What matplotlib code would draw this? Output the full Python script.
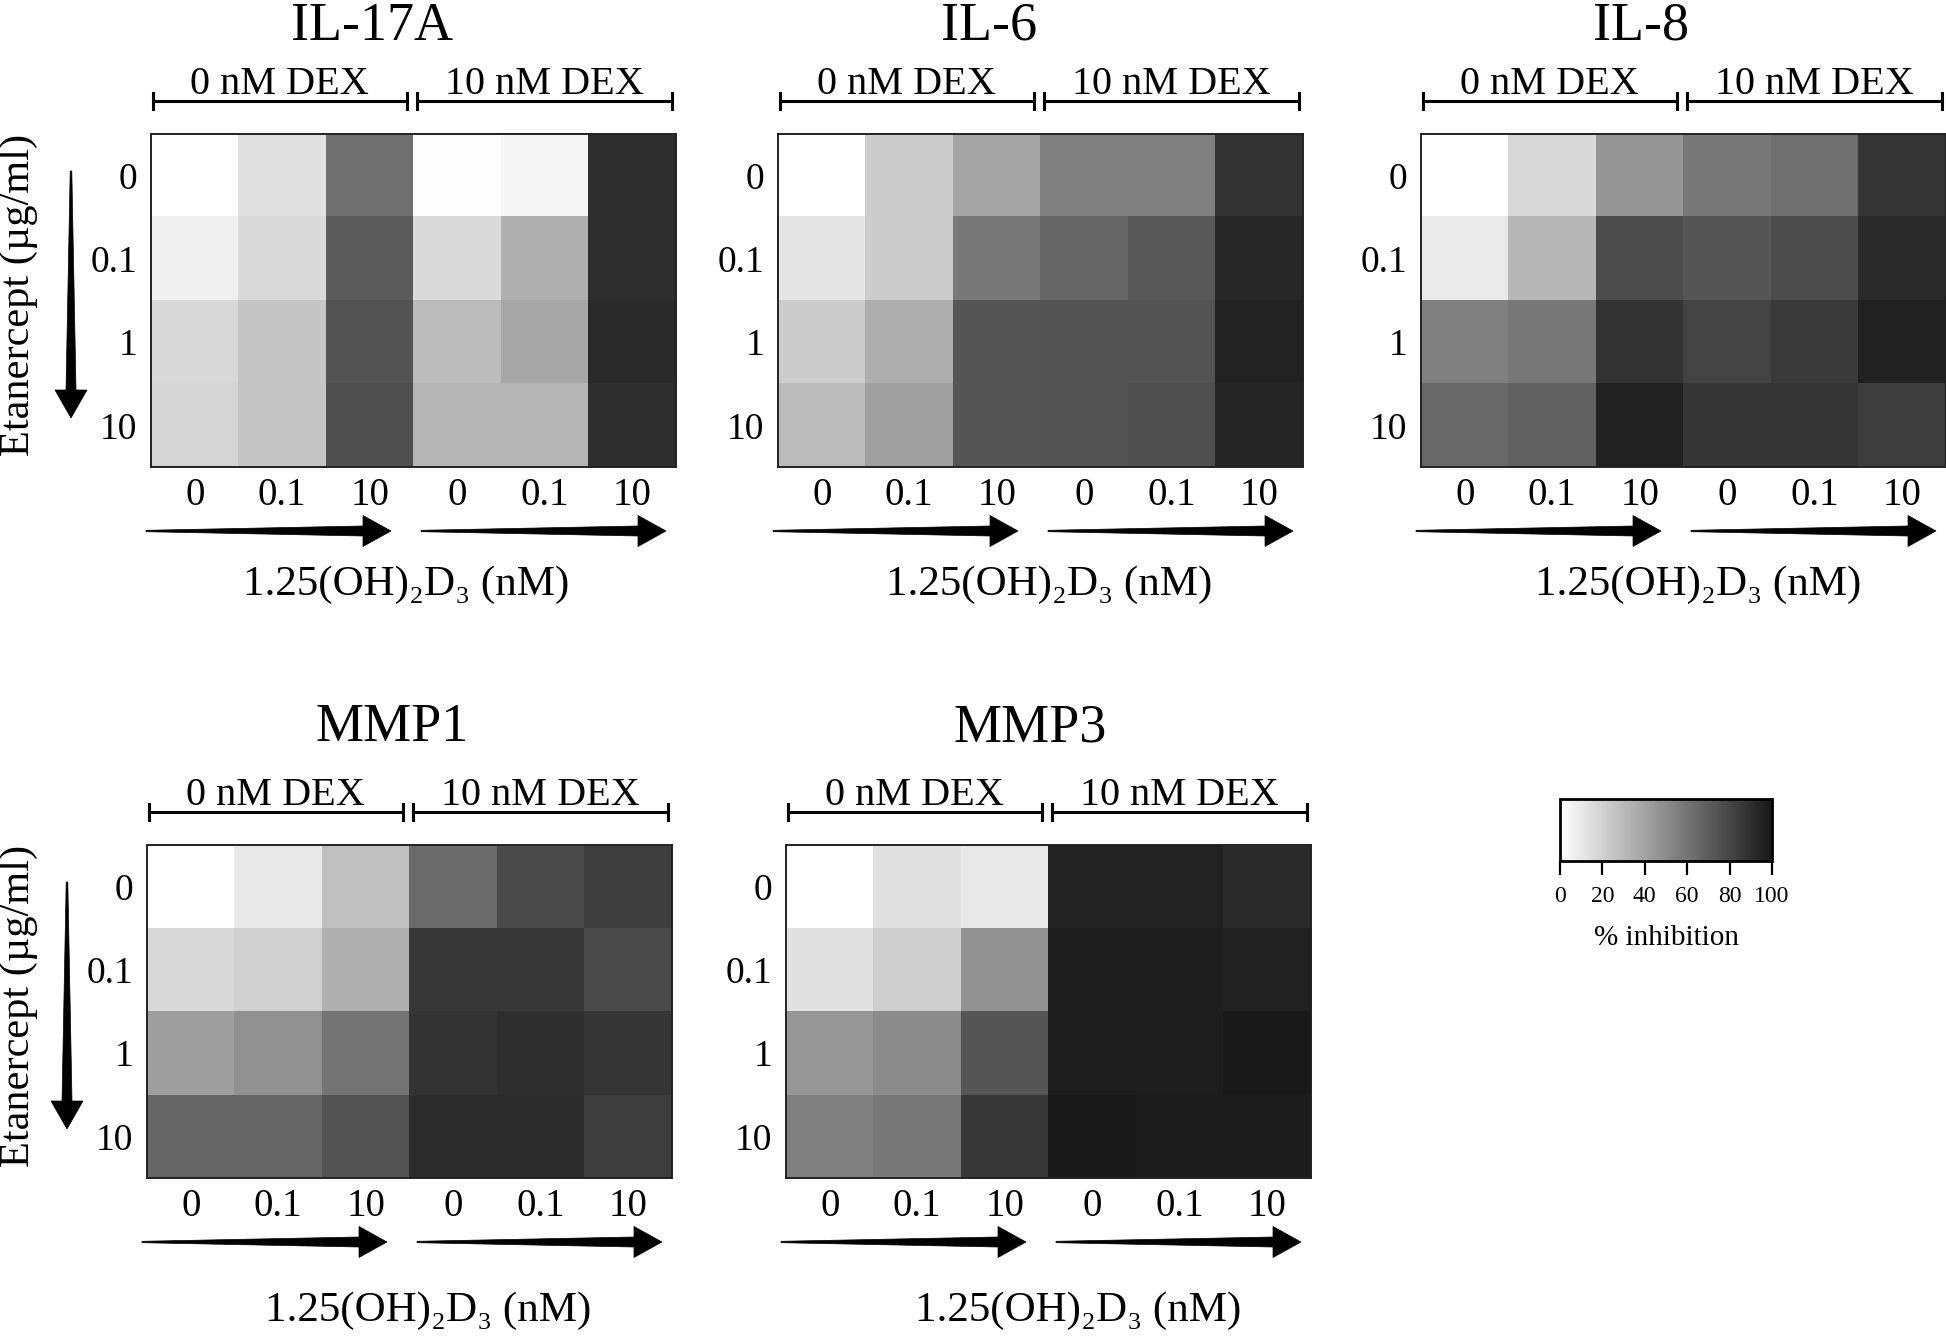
import numpy as np
import matplotlib
matplotlib.use("Agg")
import matplotlib.pyplot as plt
from matplotlib.colors import LinearSegmentedColormap
from matplotlib.patches import Polygon
from matplotlib.lines import Line2D

plt.rcParams['font.family'] = ['Liberation Serif', 'DejaVu Serif']

# ---------------- data (% inhibition) ----------------
# rows: Etanercept 0, 0.1, 1, 10 ug/ml ; columns: 1,25(OH)2D3 0, 0.1, 10 nM (0 nM DEX) then 0, 0.1, 10 nM (10 nM DEX)
etanercept_labels = ["0", "0.1", "1", "10"]
d3_labels = ["0", "0.1", "10"]
dex_labels = ["0 nM DEX", "10 nM DEX"]

il17a = [[0, 13, 62, 1, 4, 90],
         [7, 16, 71, 16, 34, 90],
         [17, 25, 74, 29, 38, 92],
         [18, 25, 76, 32, 32, 90]]
il6 = [[0, 22, 39, 55, 55, 88],
       [11, 22, 58, 66, 72, 93],
       [22, 35, 73, 74, 74, 95],
       [29, 41, 73, 74, 76, 94]]
il8 = [[0, 17, 46, 58, 62, 87],
       [9, 31, 77, 73, 77, 92],
       [55, 58, 88, 81, 85, 96],
       [65, 68, 96, 87, 87, 84]]
mmp1 = [[0, 10, 27, 64, 78, 83],
        [17, 20, 34, 86, 86, 78],
        [42, 48, 60, 88, 90, 87],
        [66, 66, 74, 91, 91, 84]]
mmp3 = [[0, 13, 10, 95, 95, 92],
        [13, 21, 47, 97, 97, 96],
        [45, 50, 73, 97, 97, 99],
        [55, 58, 86, 99, 98, 98]]

titles = ["IL-17A", "IL-6", "IL-8", "MMP1", "MMP3"]
datasets = [il17a, il6, il8, mmp1, mmp3]
cbar_ticks = [0, 20, 40, 60, 80, 100]

# ---------------- layout (pixels from top-left) ----------------
W, H = 1946, 1336
HW, HH = 525, 333
# (left, top, title_x, title_baseline_y, xlabel_x, xlabel_y, draw_ylabel)
layout = [(151, 134, 372, 40, 406, 585, True),
          (778, 134, 989, 40, 1049, 585, False),
          (1421, 134, 1641, 40, 1698, 585, False),
          (147, 845, 392, 741, 428, 1311, True),
          (786, 845, 1030, 741, 1078, 1311, False)]

fig = plt.figure(figsize=(W / 100, H / 100), dpi=100)


def fx(px):
    return px / W


def fy(py):
    return 1 - py / H


cmap = LinearSegmentedColormap.from_list("inh", ["#ffffff", "#181818"])


def harrow(x0, xt, y):
    hl, hh, s0, s1 = 28, 15.5, 0.7, 5.0
    x1 = xt - hl
    pts = [(x0, y - s0), (x1, y - s1), (x1, y - hh), (xt, y), (x1, y + hh), (x1, y + s1), (x0, y + s0)]
    fig.add_artist(Polygon([(fx(a), fy(b)) for a, b in pts], closed=True, transform=fig.transFigure,
                           facecolor="black", edgecolor="black", lw=0.5))


def varrow(x, y0, yt):
    hl, hh, s0, s1 = 28, 16, 0.8, 5.0
    y1 = yt - hl
    pts = [(x - s0, y0), (x - s1, y1), (x - hh, y1), (x, yt), (x + hh, y1), (x + s1, y1), (x + s0, y0)]
    fig.add_artist(Polygon([(fx(a), fy(b)) for a, b in pts], closed=True, transform=fig.transFigure,
                           facecolor="black", edgecolor="black", lw=0.5))


def hline(xa, xb, y, lw=2.2):
    fig.add_artist(Line2D([fx(xa), fx(xb)], [fy(y), fy(y)], transform=fig.transFigure, color="black", lw=lw))


def vline(x, ya, yb, lw=2.2):
    fig.add_artist(Line2D([fx(x), fx(x)], [fy(ya), fy(yb)], transform=fig.transFigure, color="black", lw=lw))


im = None
for title, data, (L, T, tx, ty, lx, ly, ylab) in zip(titles, datasets, layout):
    ax = fig.add_axes([fx(L), fy(T + HH), HW / W, HH / H])
    im = ax.imshow(np.array(data, dtype=float), cmap=cmap, vmin=0, vmax=100,
                   aspect="auto", interpolation="nearest")
    ax.set_xticks(range(6))
    ax.set_xticklabels(d3_labels * 2)
    ax.set_yticks(range(4))
    ax.set_yticklabels(etanercept_labels)
    ax.tick_params(axis="x", length=0, labelsize=28, pad=7)
    ax.tick_params(axis="y", length=0, labelsize=27, pad=10)
    for sp in ax.spines.values():
        sp.set_linewidth(1.4)
        sp.set_color("#222222")

    # title
    fig.text(fx(tx), fy(ty), title, ha="center", va="baseline", fontsize=39)

    # DEX brackets
    by = T - 33
    segs = [(L + 2, L + HW * 0.487), (L + HW * 0.506, L + HW * 0.993)]
    for (a, b), lab in zip(segs, dex_labels):
        hline(a, b, by)
        vline(a, by - 8, by + 8)
        vline(b, by - 8, by + 8)
        fig.text(fx((a + b) / 2), fy(by - 7), lab, ha="center", va="baseline", fontsize=29)

    # horizontal arrows
    ay = T + HH + 64
    harrow(L - 5, L + 240, ay)
    harrow(L + 270, L + 515, ay)

    # x label
    fig.text(fx(lx), fy(ly), "1.25(OH)₂D₃ (nM)", ha="center", va="center", fontsize=31)

    if ylab:
        fig.text(fx(19), fy(T + HH / 2 - 6), "Etanercept (µg/ml)", rotation=90,
                 ha="center", va="center", fontsize=30.5)
        varrow(L - 80, T + 37, T + HH - 49)

# colorbar
cax = fig.add_axes([fx(1560), fy(861), 212 / W, 62 / H])
cb = fig.colorbar(im, cax=cax, orientation="horizontal", ticks=cbar_ticks)
cb.outline.set_linewidth(2)
cax.tick_params(length=10, width=1.6, labelsize=17, pad=8)
cb.set_label("% inhibition", fontsize=21, labelpad=13)

fig.savefig("out.png", dpi=100)
